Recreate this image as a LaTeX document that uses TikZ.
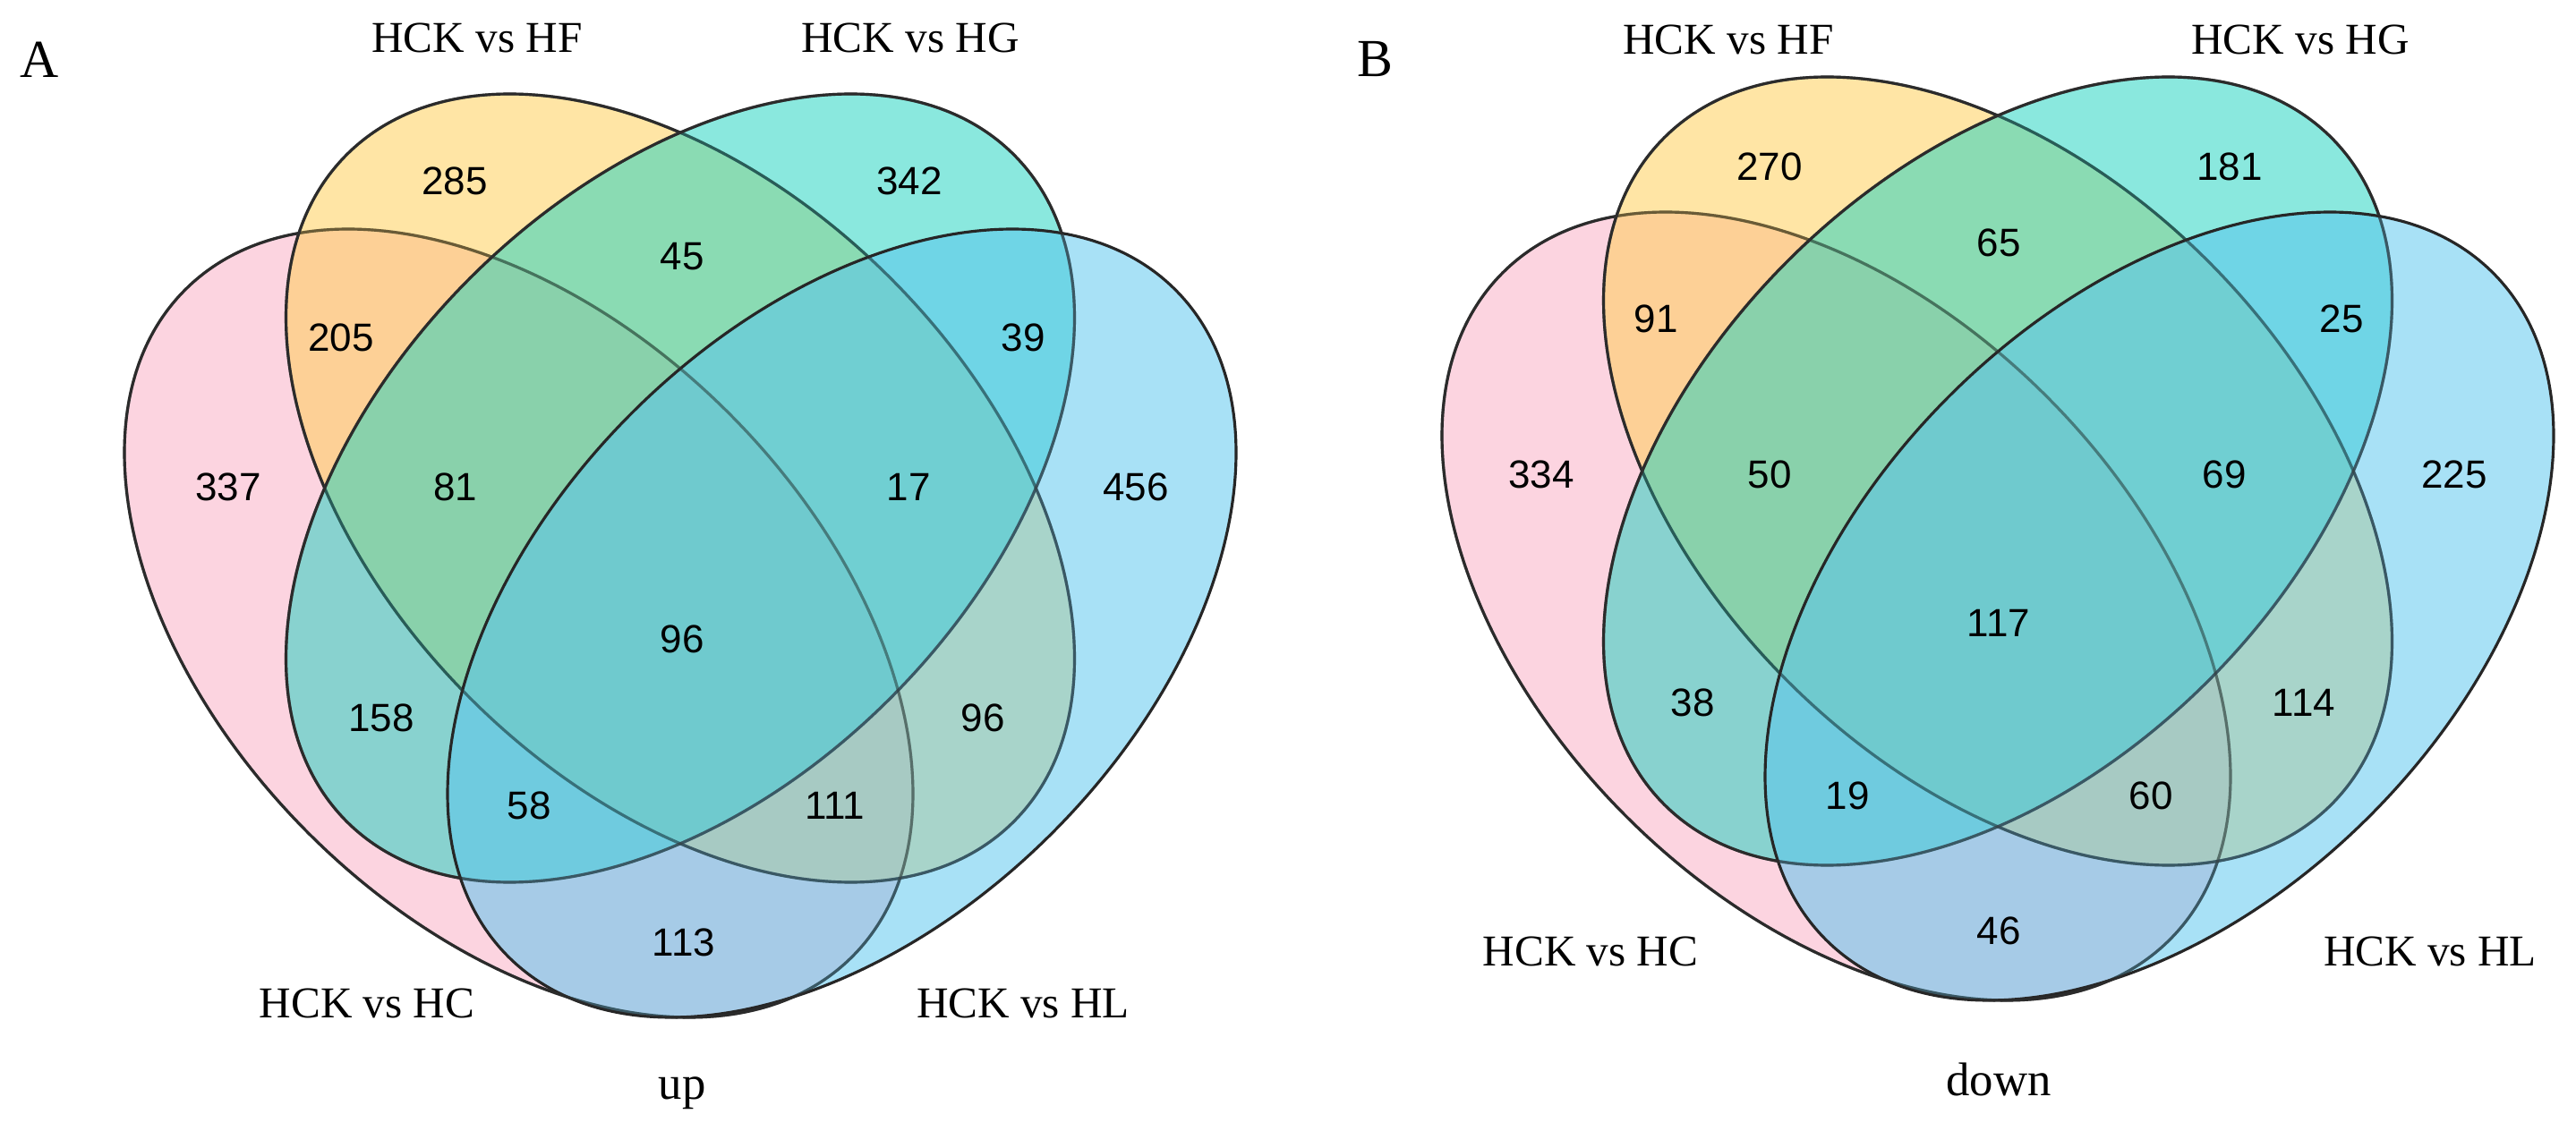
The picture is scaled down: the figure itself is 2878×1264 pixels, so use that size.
\documentclass[tikz,border=0pt]{standalone}
\usepackage{fontspec}
\setmainfont{Liberation Serif}
\newfontfamily\countfont{Liberation Sans}
\usepackage{tikz}

\definecolor{hcpink}{RGB}{250,172,196}
\definecolor{hfyellow}{RGB}{255,206,82}
\definecolor{hgteal}{RGB}{30,210,192}
\definecolor{hlblue}{RGB}{88,197,238}

\begin{document}
\begin{tikzpicture}[x=0.01cm,y=-0.01cm]

	\useasboundingbox (0,0) rectangle (2878,1264);

	\tikzset{set/.style={draw=black!85,line width=0.9pt,fill opacity=0.52}}
	\tikzset{rim/.style={draw=black!80,line width=0.9pt,draw opacity=0.45}}
	\tikzset{count/.style={font=\countfont\fontsize{12.5}{14}\selectfont}}
	\tikzset{setname/.style={font=\fontsize{14}{16}\selectfont}}
	\tikzset{panel/.style={font=\fontsize{17}{19}\selectfont}}

	% up regulated

	\begin{scope}[shift={(0,0)}]

		\foreach \cx/\cy/\ang/\col in {579.5/696.5/-45/hcpink, 760/545.5/-45/hfyellow, 760/545.5/45/hgteal, 940.5/696.5/45/hlblue}
			\draw[set,fill=\col,rotate around={\ang:(\cx,\cy)}] (\cx,\cy) ellipse [x radius=527, y radius=332];
		\foreach \cx/\cy/\ang in {579.5/696.5/-45, 760/545.5/-45, 760/545.5/45}
			\draw[rim,rotate around={\ang:(\cx,\cy)}] (\cx,\cy) ellipse [x radius=527, y radius=332];

		\node[panel] (upA) at (44,67) {A};
		\node[setname] (upHF) at (533,42) {HCK vs HF}; \node[setname] (upHG) at (1017,42) {HCK vs HG};
		\node[setname] (upHC) at (410,1121) {HCK vs HC}; \node[setname] (upHL) at (1143,1121) {HCK vs HL};
		\node[setname,font=\fontsize{15}{17}\selectfont] (uptitle) at (762,1222) {up};

		\node[count] (upF) at (508,202) {285}; \node[count] (upG) at (1016,202) {342};
		\node[count] (upFG) at (762,287) {45};
		\node[count] (upCF) at (381,377) {205}; \node[count] (upGL) at (1143,377) {39};
		\node[count] (upC) at (255,544) {337}; \node[count] (upCFG) at (509,544) {81};
		\node[count] (upFGL) at (1015,544) {17}; \node[count] (upL) at (1269,544) {456};
		\node[count] (upCFGL) at (762,714) {96};
		\node[count] (upCG) at (426,802) {158}; \node[count] (upFL) at (1098,802) {96};
		\node[count] (upCGL) at (591,900) {58}; \node[count] (upCFL) at (933,900) {111};
		\node[count] (upCL) at (764,1053) {113};

	\end{scope}

	% down regulated

	\begin{scope}[shift={(1472,-19)}]

		\foreach \cx/\cy/\ang/\col in {579.5/696.5/-45/hcpink, 760/545.5/-45/hfyellow, 760/545.5/45/hgteal, 940.5/696.5/45/hlblue}
			\draw[set,fill=\col,rotate around={\ang:(\cx,\cy)}] (\cx,\cy) ellipse [x radius=527, y radius=332];
		\foreach \cx/\cy/\ang in {579.5/696.5/-45, 760/545.5/-45, 760/545.5/45}
			\draw[rim,rotate around={\ang:(\cx,\cy)}] (\cx,\cy) ellipse [x radius=527, y radius=332];

		\node[panel] (downB) at (64,85) {B};
		\node[setname] (downHF) at (459,63) {HCK vs HF}; \node[setname] (downHG) at (1098,63) {HCK vs HG};
		\node[setname] (downHC) at (305,1082) {HCK vs HC}; \node[setname] (downHL) at (1243,1082) {HCK vs HL};
		\node[setname,font=\fontsize{15}{17}\selectfont] (downtitle) at (761,1225) {down};

		\node[count] (downF) at (505,205) {270}; \node[count] (downG) at (1019,205) {181};
		\node[count] (downFG) at (761,290) {65};
		\node[count] (downCF) at (378,375) {91}; \node[count] (downGL) at (1144,375) {25};
		\node[count] (downC) at (250,549) {334}; \node[count] (downCFG) at (505,549) {50};
		\node[count] (downFGL) at (1013,549) {69}; \node[count] (downL) at (1270,549) {225};
		\node[count] (downCFGL) at (761,715) {117};
		\node[count] (downCG) at (419,804) {38}; \node[count] (downFL) at (1102,804) {114};
		\node[count] (downCGL) at (592,908) {19}; \node[count] (downCFL) at (931,908) {60};
		\node[count] (downCL) at (761,1059) {46};

	\end{scope}

\end{tikzpicture}
\end{document}
